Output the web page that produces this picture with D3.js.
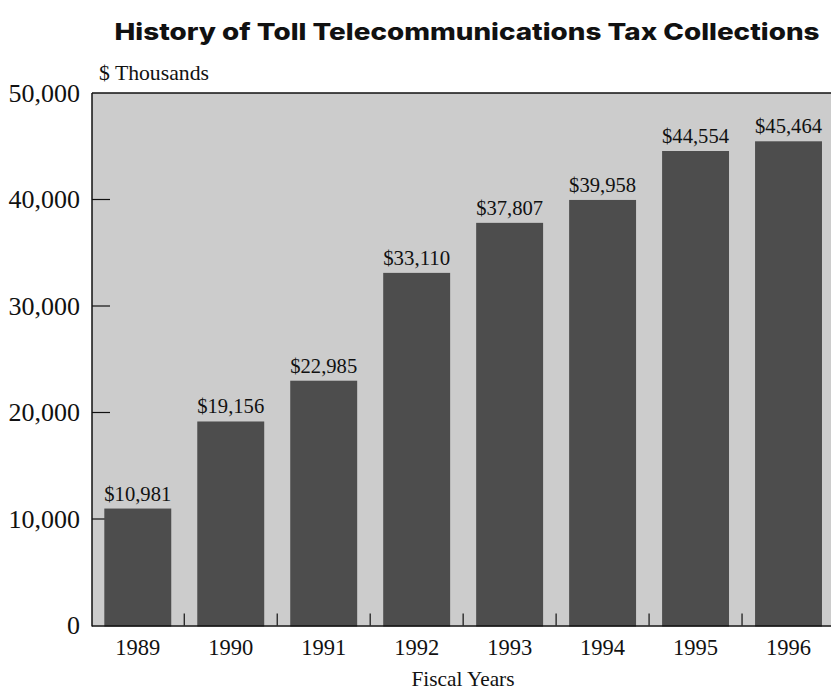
<!DOCTYPE html>
<html>
<head>
<meta charset="utf-8">
<script src="https://cdn.jsdelivr.net/npm/d3@7"></script>
<style>
  body { margin: 0; background: #ffffff; }
  svg { display: block; }
</style>
</head>
<body>
<div id="chart"></div>
<script>
// chart data
var years = ["1989", "1990", "1991", "1992", "1993", "1994", "1995", "1996"];
var collections = [10981, 19156, 22985, 33110, 37807, 39958, 44554, 45464];
var yTicks = [0, 10000, 20000, 30000, 40000, 50000];

var barColor = "#4d4d4d";
var plotColor = "#cccccc";
var serif = "'Liberation Serif', serif";

var w = 831;
var h = 691;
var margin = {top: 93, left: 92, bottom: 65};
var plotRight = 835; // plot runs a bit past the window edge

var svg = d3.select("#chart")
            .append("svg")
            .attr("width", w)
            .attr("height", h);

var x = d3.scaleBand()
          .domain(years)
          .range([margin.left - 0.7, plotRight])
          .paddingInner(0.28)
          .paddingOuter(0.14);

var y = d3.scaleLinear()
          .domain([0, 50000])
          .range([h - margin.bottom - 0.5, margin.top]);

//title
svg.append("text")
   .attr("x", 467)
   .attr("y", 40)
   .attr("text-anchor", "middle")
   .attr("font-family", "Inter, 'Open Sans', sans-serif")
   .attr("font-weight", 800)
   .attr("font-size", 23)
   .attr("textLength", 705)
   .attr("lengthAdjust", "spacingAndGlyphs")
   .attr("fill", "#111")
   .text("History of Toll Telecommunications Tax Collections");

//grey backdrop of the plot
svg.append("rect")
   .attr("x", margin.left)
   .attr("y", margin.top)
   .attr("width", plotRight - margin.left)
   .attr("height", y(0) - margin.top)
   .attr("fill", plotColor);

//y ticks drawn inside the plot
svg.append("g")
   .selectAll("line")
   .data(yTicks.slice(1, -1))
   .enter()
   .append("line")
   .attr("x1", margin.left)
   .attr("x2", margin.left + 18)
   .attr("y1", function(d) { return y(d); })
   .attr("y2", function(d) { return y(d); })
   .attr("stroke", "#111")
   .attr("stroke-width", 1.2);

//x ticks between the bars
var bandStep = x.step();
svg.append("g")
   .selectAll("line")
   .data(years.slice(0, -1))
   .enter()
   .append("line")
   .attr("x1", function(d) { return x(d) + x.bandwidth() + (bandStep - x.bandwidth()) / 2; })
   .attr("x2", function(d) { return x(d) + x.bandwidth() + (bandStep - x.bandwidth()) / 2; })
   .attr("y1", y(0))
   .attr("y2", y(0) - 12)
   .attr("stroke", "#111")
   .attr("stroke-width", 1.2);

//bars
svg.append("g")
   .selectAll("rect")
   .data(collections)
   .enter()
   .append("rect")
   .attr("x", function(d, i) { return x(years[i]); })
   .attr("y", function(d) { return y(d); })
   .attr("width", x.bandwidth())
   .attr("height", function(d) { return y(0) - y(d) + 1; })
   .attr("fill", barColor);

//value labels above the bars
svg.append("g")
   .selectAll("text")
   .data(collections)
   .enter()
   .append("text")
   .attr("x", function(d, i) { return x(years[i]) + x.bandwidth() / 2; })
   .attr("y", function(d) { return y(d) - 8; })
   .attr("text-anchor", "middle")
   .attr("font-family", serif)
   .attr("font-size", 21)
   .attr("textLength", 67)
   .attr("lengthAdjust", "spacingAndGlyphs")
   .attr("fill", "#111")
   .text(function(d) { return "$" + d3.format(",")(d); });

//frame: top and left lines, base line
svg.append("line")
   .attr("x1", margin.left).attr("x2", plotRight)
   .attr("y1", margin.top).attr("y2", margin.top)
   .attr("stroke", "#111").attr("stroke-width", 1.5);
svg.append("line")
   .attr("x1", margin.left).attr("x2", margin.left)
   .attr("y1", margin.top).attr("y2", y(0) + 1)
   .attr("stroke", "#111").attr("stroke-width", 1.5);
svg.append("line")
   .attr("x1", margin.left).attr("x2", plotRight)
   .attr("y1", y(0) + 0.5).attr("y2", y(0) + 0.5)
   .attr("stroke", "#111").attr("stroke-width", 1.5);

//y tick labels
svg.append("g")
   .selectAll("text")
   .data(yTicks)
   .enter()
   .append("text")
   .attr("x", 80)
   .attr("y", function(d) { return y(d); })
   .attr("dy", "0.34em")
   .attr("text-anchor", "end")
   .attr("font-family", serif)
   .attr("font-size", 26)
   .attr("fill", "#111")
   .text(function(d) { return d3.format(",")(d); });

//x tick labels
svg.append("g")
   .selectAll("text")
   .data(years)
   .enter()
   .append("text")
   .attr("x", function(d) { return x(d) + x.bandwidth() / 2; })
   .attr("y", 655)
   .attr("text-anchor", "middle")
   .attr("font-family", serif)
   .attr("font-size", 24)
   .attr("textLength", 45)
   .attr("lengthAdjust", "spacingAndGlyphs")
   .attr("fill", "#111")
   .text(function(d) { return d; });

//axis titles
svg.append("text")
   .attr("x", 99)
   .attr("y", 80)
   .attr("font-family", serif)
   .attr("font-size", 21)
   .attr("textLength", 110)
   .attr("lengthAdjust", "spacingAndGlyphs")
   .attr("fill", "#111")
   .text("$ Thousands");

svg.append("text")
   .attr("x", 463)
   .attr("y", 686)
   .attr("text-anchor", "middle")
   .attr("font-family", serif)
   .attr("font-size", 21)
   .attr("textLength", 103)
   .attr("lengthAdjust", "spacingAndGlyphs")
   .attr("fill", "#111")
   .text("Fiscal Years");
</script>
</body>
</html>
